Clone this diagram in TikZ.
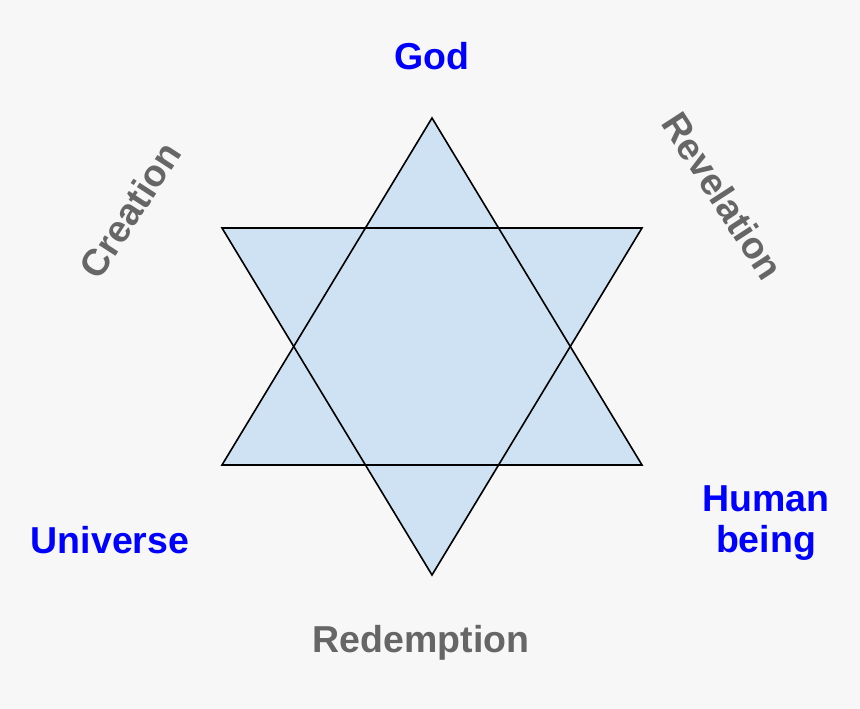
\documentclass[tikz,border=0pt]{standalone}
\usepackage{fontspec}
\setmainfont{Liberation Sans}
\definecolor{bgc}{HTML}{F7F7F7}
\definecolor{starfill}{HTML}{CFE2F3}
\definecolor{lblue}{HTML}{0000FF}
\definecolor{lgray}{HTML}{666666}
\begin{document}
\begin{tikzpicture}[x=1pt,y=1pt,
  lbl/.style={font=\fontsize{37.5}{41}\selectfont\bfseries, inner sep=0pt},
  bluelbl/.style={lbl, text=lblue},
  graylbl/.style={lbl, text=lgray},
  tri/.style={draw=black, line width=1.6pt, fill=starfill, line join=miter}]
\fill[bgc] (0,0) rectangle (860,709);
\useasboundingbox (0,0) rectangle (860,709);
% star
\coordinate (t) at (432,591);
\coordinate (bl) at (222,244);
\coordinate (br) at (642,244);
\coordinate (b) at (432,134);
\coordinate (tl) at (222,481);
\coordinate (tr) at (642,481);
\fill[starfill] (t) -- (bl) -- (br) -- cycle;
\fill[starfill] (tl) -- (tr) -- (b) -- cycle;
\draw[tri, fill=none] (t) -- (bl) -- (br) -- cycle;
\draw[tri, fill=none] (tl) -- (tr) -- (b) -- cycle;
% labels
\node[bluelbl, anchor=base] (god) at (432,639) {God};
\node[graylbl, rotate=57] (creation) at (130,499) {Creation};
\node[graylbl, rotate=-57] (revelation) at (723,513) {Revelation};
\node[bluelbl, anchor=base] (universe) at (110,155) {Universe};
\node[bluelbl, anchor=base, align=center] (human) at (766,197) {Human};
\node[bluelbl, anchor=base] (being) at (766,156) {being};
\node[graylbl, anchor=base] (redemption) at (421,56) {Redemption};
\end{tikzpicture}
\end{document}
